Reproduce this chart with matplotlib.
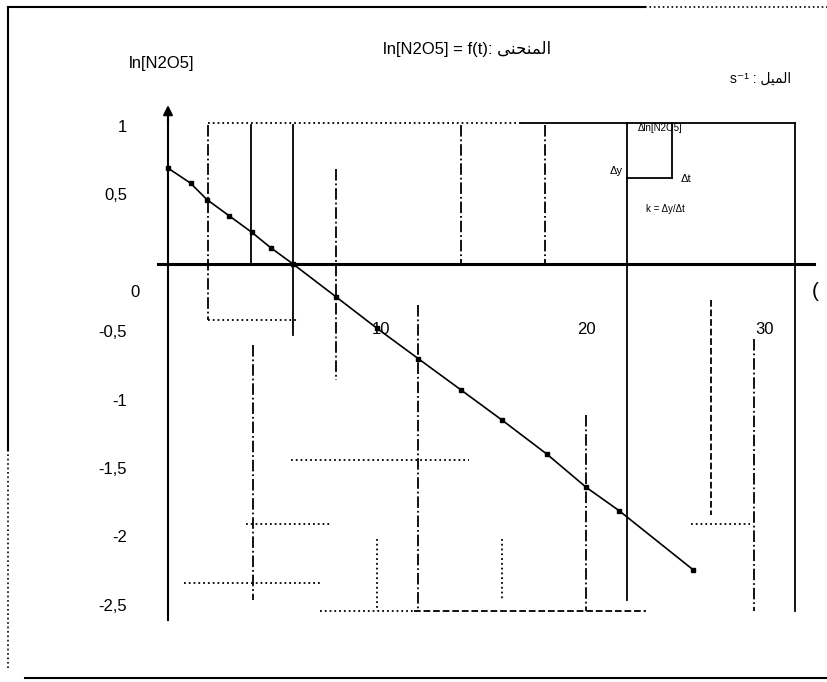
import matplotlib.pyplot as plt

# ln[N2O5]
t = [0, 1.1, 1.9, 3.0, 4.1, 5.0, 6.1, 8.2, 10.2, 12.2, 14.3, 16.3, 18.5, 20.4, 22.0, 25.6]
ln_c = [0.70, 0.59, 0.47, 0.35, 0.23, 0.12, 0.00, -0.24, -0.47, -0.69, -0.92,
        -1.14, -1.39, -1.63, -1.80, -2.23]

y_ticks = [1, 0.5, -0.5, -1, -1.5, -2, -2.5]
y_tick_labels = ["1", "0,5", "-0,5", "-1", "-1,5", "-2", "-2,5"]
x_ticks = [10, 20, 30]
x_tick_labels = ["10", "20", "30"]

# grid pieces of the paper (t, y_top, y_bottom, style)
vlines = [
    (1.95, 1.015, -0.41, '-.'), (4.05, 1.015, 0.0, '-'), (4.15, -0.59, -2.45, '-.'),
    (6.1, 1.015, -0.52, '-'), (8.2, 0.69, -0.85, '-.'), (10.2, -2.01, -2.53, ':'),
    (12.2, -0.30, -2.53, '-.'), (14.3, 1.015, 0.0, '-.'), (16.3, -2.01, -2.45, ':'),
    (18.4, 1.015, 0.0, '-.'), (20.4, -1.10, -2.53, '-.'), (22.4, 1.03, -2.45, '-'),
    (24.6, 1.03, 0.63, '-'), (26.5, -0.26, -1.83, '--'), (28.6, -0.55, -2.53, '-.'),
    (30.6, 1.03, -2.53, '-'),
]
hlines = [
    (1.03, 1.95, 17.2, ':'), (1.03, 17.2, 30.6, '-'), (-2.53, 7.4, 12.0, ':'),
    (-2.53, 12.0, 23.3, '--'), (-0.41, 1.95, 6.4, ':'), (-1.43, 6.0, 14.7, ':'),
    (-1.90, 3.8, 7.9, ':'), (-1.90, 25.5, 28.4, ':'), (-2.33, 0.8, 7.4, ':'),
    (0.63, 22.4, 24.6, '-'),
]

fam = ['Liberation Sans', 'DejaVu Sans']
plt.rcParams['font.family'] = fam

fig = plt.figure(figsize=(8.27, 6.82), dpi=100)
ax = fig.add_axes([0, 0, 1, 1])
ax.set_xlim(-168 / 20.5, 659 / 20.5)
ax.set_ylim(-418 / 137, 264 / 137)
ax.axis('off')

for x, y0, y1, ls in vlines:
    ax.plot([x, x], [y0, y1], color='black', lw=1.3, ls=ls)
for y, x0, x1, ls in hlines:
    ax.plot([x0, x1], [y, y], color='black', lw=1.3, ls=ls)

# axes with arrows
ax.plot([0, 0], [-2.6, 1.1], color='black', lw=1.5)
ax.annotate('', xy=(0, 1.18), xytext=(0, 1.0),
            arrowprops=dict(arrowstyle='-|>', color='black', lw=1.5, mutation_scale=14))
ax.plot([-0.5, 31.5], [0, 0], color='black', lw=2.2)
ax.annotate('', xy=(32.2, 0), xytext=(31.0, 0),
            arrowprops=dict(arrowstyle='-|>', color='black', lw=1.5, mutation_scale=14))

ax.plot(t, ln_c, color='black', lw=1.2, marker='s', ms=3.5)

for v, lab in zip(y_ticks, y_tick_labels):
    ax.text(-2.0, v, lab, ha='right', va='center', fontsize=12)
ax.text(-1.4, -0.21, "0", ha='right', va='center', fontsize=12)
for v, lab in zip(x_ticks, x_tick_labels):
    ax.text(v - (0.9 if v == 30 else -0.4), -0.48, lab, ha='center', va='center', fontsize=12)
ax.text(31.4, -0.2, "(", ha='left', va='center', fontsize=15)

ax.text(-0.3, 1.46, "ln[N2O5]", ha='center', va='center', fontsize=12)
ax.text(14.6, 1.57, "ln[N2O5] = f(t): \ufef0\ufee8\ufea4\ufee8\ufee4\ufedf\ufe8d",
        ha='center', va='center', fontsize=12)
ax.text(30.4, 1.35, "s\u207b\u00b9 : \ufede\ufef4\ufee4\ufedf\ufe8d",
        ha='right', va='center', fontsize=10)
ax.text(22.9, 0.99, "\u0394ln[N2O5]", ha='left', va='center', fontsize=7)
ax.text(22.2, 0.68, "\u0394y", ha='right', va='center', fontsize=8)
ax.text(25.0, 0.62, "\u0394t", ha='left', va='center', fontsize=8)
ax.text(23.3, 0.40, "k = \u0394y/\u0394t", ha='left', va='center', fontsize=7)

# page frame of the scan
ax.plot([0.010, 0.010], [0.34, 0.99], transform=ax.transAxes, color='black', lw=1.5)
ax.plot([0.010, 0.010], [0.02, 0.34], transform=ax.transAxes, color='black', lw=1.2, ls=':')
ax.plot([0.010, 0.78], [0.99, 0.99], transform=ax.transAxes, color='black', lw=1.5)
ax.plot([0.78, 1.0], [0.99, 0.99], transform=ax.transAxes, color='black', lw=1.2, ls=':')
ax.plot([0.03, 1.0], [0.006, 0.006], transform=ax.transAxes, color='black', lw=1.5)

fig.savefig('out.png', dpi=100)
